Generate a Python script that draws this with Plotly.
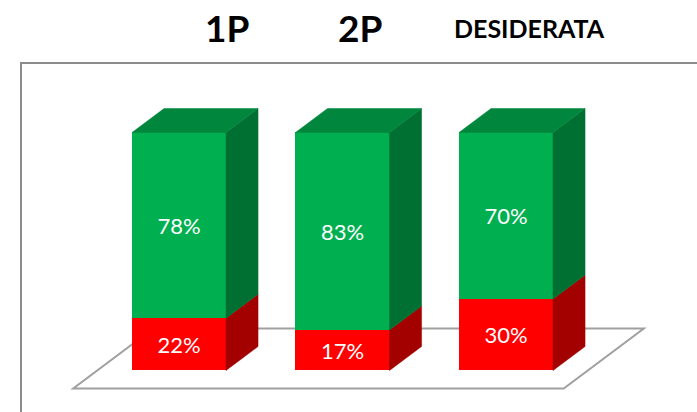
import plotly.graph_objects as go

# ---- data ----
categories = ["1P", "2P", "DESIDERATA"]
red_values = [22, 17, 30]
green_values = [78, 83, 70]
red_labels = ["22%", "17%", "30%"]
green_labels = ["78%", "83%", "70%"]

# ---- style / geometry ----
BAR_W = 0.575      # bar width in category units
DX = 0.196         # 3D depth offset (x, category units)
DY = 10.08         # 3D depth offset (y, percent units)
GREEN = "#00B050"
GREEN_TOP = "#00863D"
GREEN_SIDE = "#006F32"
RED = "#FF0000"
RED_SIDE = "#A30000"
FONT = "Lato"

xs = list(range(len(categories)))

fig = go.Figure()

# front faces (stacked bars)
fig.add_trace(go.Bar(
    x=xs, y=red_values, width=BAR_W,
    marker=dict(color=RED, line=dict(width=0)),
    text=red_labels, textposition="inside", insidetextanchor="middle",
    constraintext="none",
    textfont=dict(color="white", size=22, family=FONT),
    hoverinfo="skip", showlegend=False))
fig.add_trace(go.Bar(
    x=xs, y=green_values, width=BAR_W,
    marker=dict(color=GREEN, line=dict(width=0)),
    text=green_labels, textposition="inside", insidetextanchor="middle",
    constraintext="none",
    textfont=dict(color="white", size=22, family=FONT),
    hoverinfo="skip", showlegend=False))


def side_poly(xc, b, t):
    xr = xc + BAR_W / 2
    return [xr, xr + DX, xr + DX, xr, xr, None], [b, b + DY, t + DY, t, b, None]


def top_poly(xc, t):
    xl = xc - BAR_W / 2
    xr = xc + BAR_W / 2
    return [xl, xl + DX, xr + DX, xr, xl, None], [t, t + DY, t + DY, t, t, None]


rsx, rsy, gsx, gsy, tx, ty = [], [], [], [], [], []
for i, (r, g) in enumerate(zip(red_values, green_values)):
    a, b = side_poly(xs[i], 0, r)
    rsx += a; rsy += b
    a, b = side_poly(xs[i], r, r + g)
    gsx += a; gsy += b
    a, b = top_poly(xs[i], r + g)
    tx += a; ty += b

for px, py, col in [(rsx, rsy, RED_SIDE), (gsx, gsy, GREEN_SIDE), (tx, ty, GREEN_TOP)]:
    fig.add_trace(go.Scatter(x=px, y=py, mode="lines", fill="toself",
                             fillcolor=col, line=dict(width=0.5, color=col),
                             hoverinfo="skip", showlegend=False))

# floor plane (y = 0), spanning the category range
fx0, fx1 = -0.5, len(categories) - 0.5
df, db = -0.75, 1.75
floor = [
    (fx0 + df * DX, df * DY), (fx1 + df * DX, df * DY),
    (fx1 + db * DX, db * DY), (fx0 + db * DX, db * DY)]
path = "M " + " L ".join(f"{p[0]},{p[1]}" for p in floor) + " Z"
fig.add_shape(type="path", path=path, xref="x", yref="y", layer="below",
              fillcolor="white", line=dict(color="#A0A0A0", width=2))

# outer frame
fig.add_shape(type="rect", xref="paper", yref="paper",
              x0=21 / 697, x1=1.01, y0=-0.01, y1=1 - 63 / 412,
              line=dict(color="#8C8C8C", width=2), fillcolor="rgba(0,0,0,0)",
              layer="below")

# column titles
title_x = [0.3257, 0.5165, 0.759]
title_size = [37, 37, 25]
for name, px, sz in zip(categories, title_x, title_size):
    fig.add_annotation(text=f"<b>{name}</b>", x=px, y=1 - 28 / 412,
                       xref="paper", yref="paper", xanchor="center", yanchor="middle",
                       showarrow=False, font=dict(size=sz, color="black", family=FONT))

fig.update_layout(
    width=697, height=412,
    margin=dict(l=0, r=0, t=0, b=0),
    barmode="stack", bargap=0,
    paper_bgcolor="white", plot_bgcolor="white",
    xaxis=dict(visible=False, range=[-1.0948, 3.1682], fixedrange=True),
    yaxis=dict(visible=False, range=[-17.44, 155.67], fixedrange=True),
    showlegend=False,
)

fig.write_html("out.html",
               config={"displayModeBar": False, "staticPlot": True},
               post_script="document.body.style.margin='0';document.body.style.overflow='hidden';")
